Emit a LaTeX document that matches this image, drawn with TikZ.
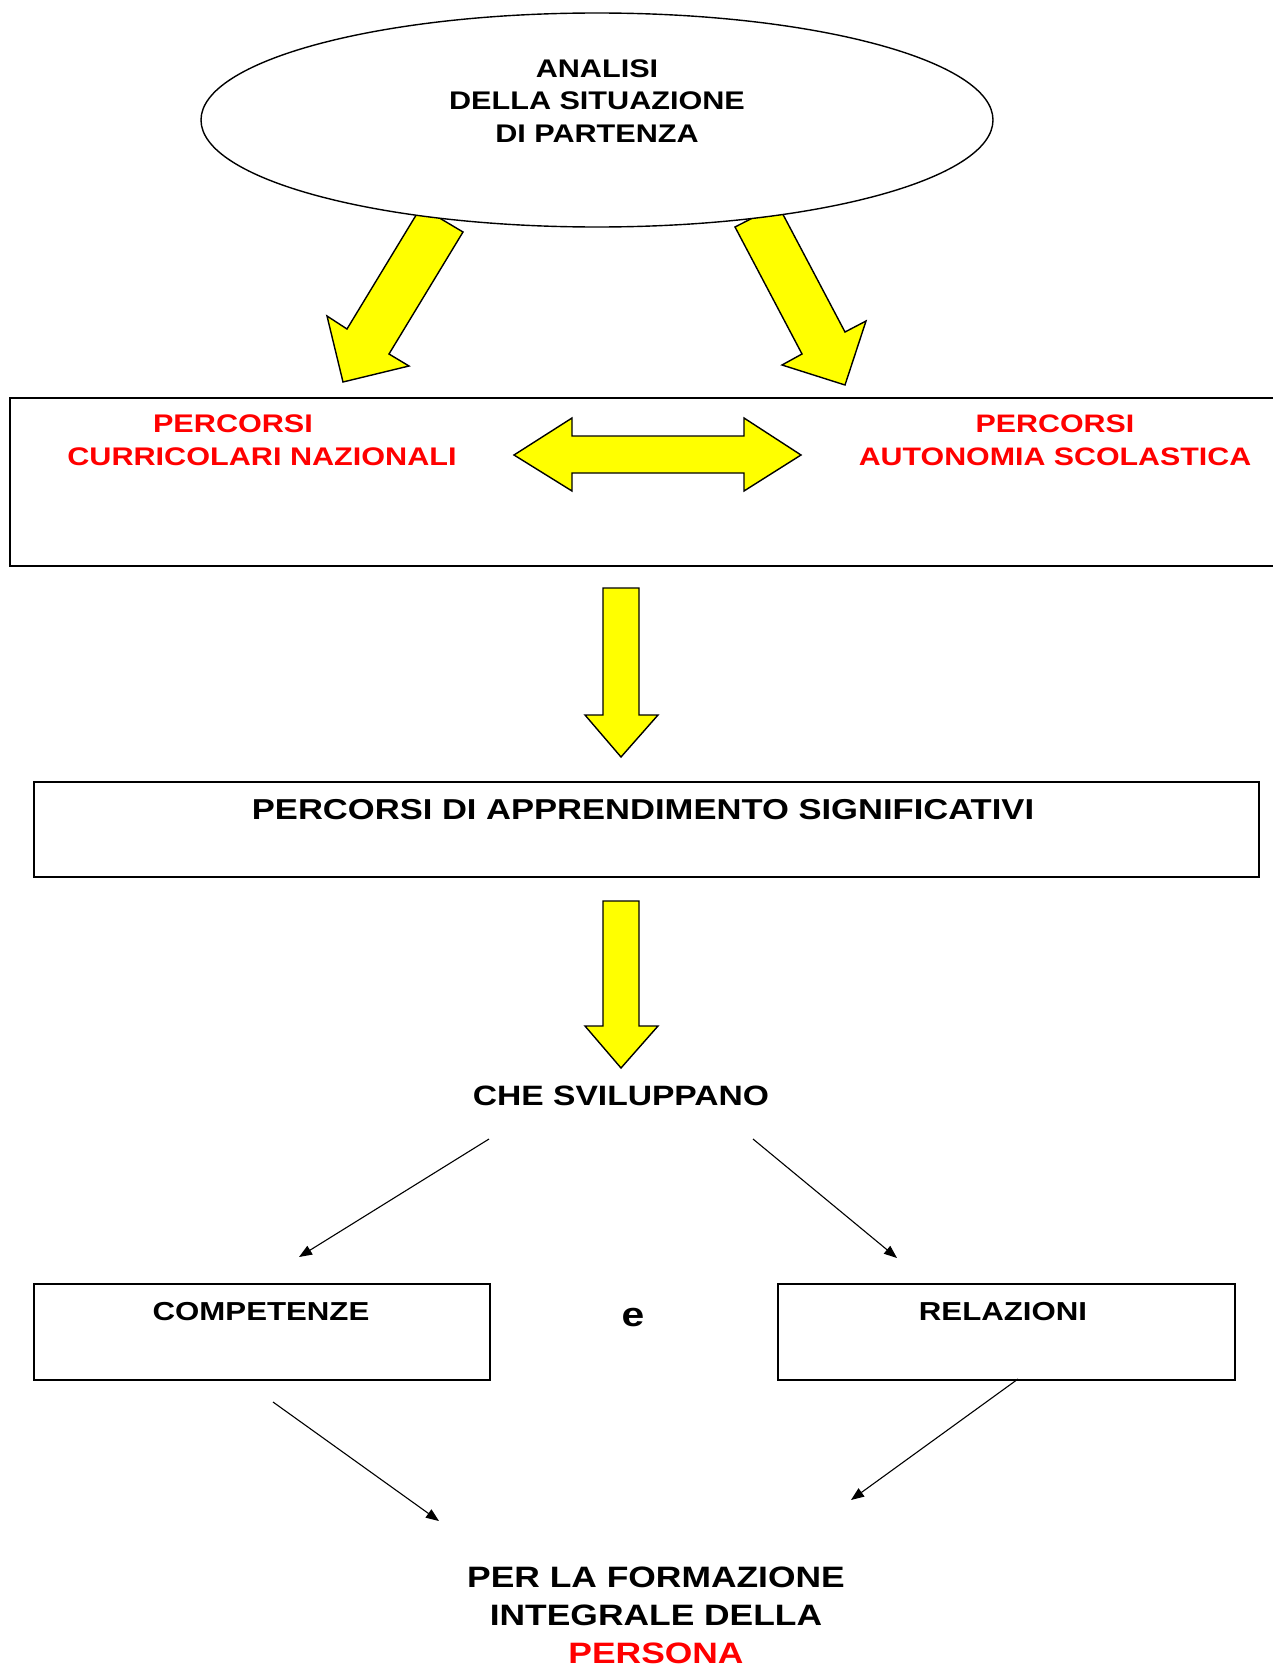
\documentclass[tikz,border=0pt]{standalone}
\usepackage{fontspec}
\setmainfont{Liberation Sans}[FakeStretch=1.2]
\usetikzlibrary{shapes.geometric,arrows.meta}
\definecolor{ylw}{RGB}{255,255,0}
\definecolor{rd}{RGB}{255,0,0}
\begin{document}
\begin{tikzpicture}[x=1pt,y=-1pt,
  bigarrow/.style={fill=ylw, draw=black, line width=1.4pt, line join=miter},
  frame/.style={draw=black, line width=1.5pt, inner sep=0pt, anchor=north west},
  lbl/.style 2 args={font=\bfseries\fontsize{#1}{#2}\selectfont, align=center, inner sep=0pt},
  thinarrow/.style={line width=1.1pt, -{Triangle[length=13pt,width=10pt]}}]
\useasboundingbox (0,0) rectangle (1272,1667);
% slanted yellow arrows (drawn under the ellipse)
\draw[bigarrow] (421,207) -- (463,232) -- (389,354) -- (409,366) -- (343,382)
  -- (327,316) -- (347,329) -- cycle;
\draw[bigarrow] (735,227) -- (802,354) -- (782,365) -- (845,385) -- (866,321)
  -- (845,332) -- (778,205) -- cycle;
% ellipse
\node[ellipse, draw=black, fill=white, line width=1.4pt, minimum width=792pt,
  minimum height=214pt, inner sep=0pt] (start) at (597,120) {};
\node[lbl={25.5}{32.5}] (starttxt) at (597,101)
  {ANALISI\\DELLA SITUAZIONE\\DI PARTENZA};
% first box
\node[frame, minimum width=1272pt, minimum height=168pt] (box1) at (9,397) {};
\node[lbl={25.5}{33}, text=rd] (curr) at (262,440)
  {PERCORSI\hspace*{58pt}\\CURRICOLARI NAZIONALI};
\node[lbl={25.3}{33}, text=rd] (auto) at (1055,440)
  {PERCORSI\\AUTONOMIA SCOLASTICA};
\draw[bigarrow] (514,455) -- (572,418) -- (572,436) -- (744,436) -- (744,418)
  -- (801,455) -- (744,491) -- (744,473) -- (572,473) -- (572,491) -- cycle;
% down arrow 1
\draw[bigarrow] (603,588) -- (639,588) -- (639,715) -- (658,715) -- (621,757)
  -- (585,715) -- (603,715) -- cycle;
% second box
\node[frame, minimum width=1225pt, minimum height=95pt] (box2) at (33,781) {};
\node[lbl={28.8}{34}] (app) at (643,810) {PERCORSI DI APPRENDIMENTO SIGNIFICATIVI};
% down arrow 2
\draw[bigarrow] (603,901) -- (639,901) -- (639,1026) -- (658,1026) -- (621,1068)
  -- (585,1026) -- (603,1026) -- cycle;
\node[lbl={28}{34}] (che) at (621,1096) {CHE SVILUPPANO};
% competenze / relazioni
\node[frame, minimum width=456pt, minimum height=96pt] (compbox) at (33,1283) {};
\node[lbl={26}{32}] (comp) at (261,1312) {COMPETENZE};
\node[frame, minimum width=457pt, minimum height=96pt] (relbox) at (777,1283) {};
\node[lbl={26}{32}] (rel) at (1003,1312) {RELAZIONI};
\node[lbl={34}{40}] (e) at (633,1318) {e};
% thin arrows
\coordinate (a1s) at (489,1139); \coordinate (a1e) at (299,1257);
\coordinate (a2s) at (753,1139); \coordinate (a2e) at (897,1258);
\coordinate (a3s) at (273,1402); \coordinate (a3e) at (439,1521);
\coordinate (a4s) at (1018,1379); \coordinate (a4e) at (851,1500);
\draw[thinarrow] (a1s) -- (a1e);
\draw[thinarrow] (a2s) -- (a2e);
\draw[thinarrow] (a3s) -- (a3e);
\draw[thinarrow] (a4s) -- (a4e);
% final text
\node[lbl={29.5}{38}] (fin) at (656,1615)
  {PER LA FORMAZIONE\\INTEGRALE DELLA\\\textcolor{rd}{PERSONA}};
\end{tikzpicture}
\end{document}
